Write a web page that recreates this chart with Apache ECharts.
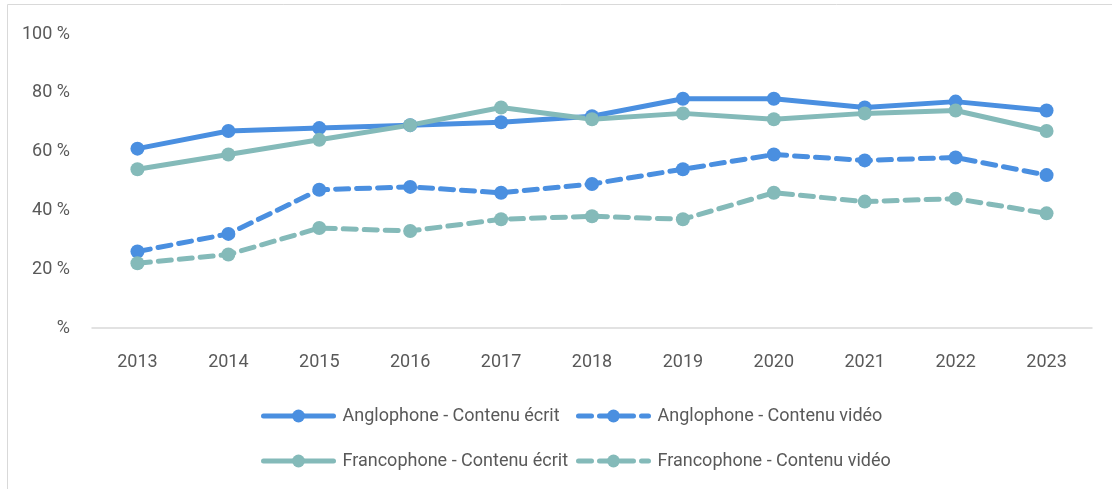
<!DOCTYPE html>
<html>
<head>
<meta charset="utf-8">
<script src="https://cdn.jsdelivr.net/npm/echarts@6/dist/echarts.min.js"></script>
<style>
html,body{margin:0;padding:0;background:#fff;}
#main{width:1112px;height:489px;}
</style>
</head>
<body>
<div id="main"></div>
<script>
var annees = ['2013','2014','2015','2016','2017','2018','2019','2020','2021','2022','2023'];
var angloEcrit = [61, 67, 68, 69, 70, 72, 78, 78, 75, 77, 74];
var angloVideo = [26, 32, 47, 48, 46, 49, 54, 59, 57, 58, 52];
var francoEcrit = [54, 59, 64, 69, 75, 71, 73, 71, 73, 74, 67];
var francoVideo = [22, 25, 34, 33, 37, 38, 37, 46, 43, 44, 39];
var yTicks = [0, 20, 40, 60, 80, 100];

var bleu = '#4a8fe0', vert = '#84bab9';
var police = '"Roboto", sans-serif';
var gris = '#595959';

function serie(nom, data, couleur, pointille) {
	return {
		name: nom,
		type: 'line',
		data: data,
		symbol: 'circle',
		symbolSize: 14,
		lineStyle: {width: 5, color: couleur, type: pointille ? [13, 8] : 'solid', cap: 'round'},
		itemStyle: {color: couleur},
		emphasis: {disabled: true}
	};
}

function legende(nom, gauche, haut) {
	return {
		data: [nom],
		left: gauche,
		top: haut,
		itemWidth: 70,
		itemHeight: 16,
		itemGap: 0,
		lineStyle: {width: 5, cap: 'round'},
		textStyle: {fontFamily: police, fontSize: 18, color: gris, padding: [0, 0, 0, 4]},
		selectedMode: false
	};
}

var chart = echarts.init(document.getElementById('main'));
chart.setOption({
	animation: false,
	graphic: [{
		type: 'rect',
		shape: {x: 7.5, y: 4.5, width: 1110, height: 490},
		style: {fill: 'none', stroke: '#d9d9d9', lineWidth: 1}
	}],
	grid: {left: 92, right: 20, top: 34, bottom: 161},
	legend: [
		legende('Anglophone - Contenu écrit', 256, 402),
		legende('Anglophone - Contenu vidéo', 571, 402),
		legende('Francophone - Contenu écrit', 256, 447),
		legende('Francophone - Contenu vidéo', 571, 447)
	],
	xAxis: {
		type: 'category',
		data: annees,
		boundaryGap: true,
		axisLine: {lineStyle: {color: '#d9d9d9', width: 1.5}},
		axisTick: {show: false},
		axisLabel: {fontFamily: police, fontSize: 18, color: gris, margin: 25}
	},
	yAxis: {
		type: 'value',
		min: yTicks[0],
		max: yTicks[yTicks.length - 1],
		interval: 20,
		splitLine: {show: false},
		axisLine: {show: false},
		axisTick: {show: false},
		axisLabel: {
			fontFamily: police, fontSize: 18, color: gris, margin: 22,
			formatter: function (v) { return (v === 0 ? '' : v) + ' %'; }
		}
	},
	series: [
		serie('Anglophone - Contenu écrit', angloEcrit, bleu, false),
		serie('Anglophone - Contenu vidéo', angloVideo, bleu, true),
		serie('Francophone - Contenu écrit', francoEcrit, vert, false),
		serie('Francophone - Contenu vidéo', francoVideo, vert, true)
	]
});
</script>
</body>
</html>
